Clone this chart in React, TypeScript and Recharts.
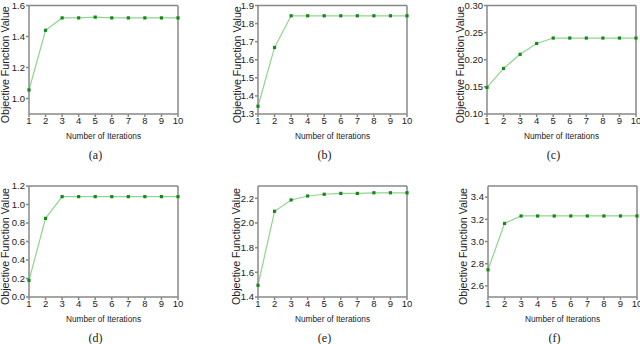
import { Line, LineChart, ReferenceLine, XAxis, YAxis } from "recharts";

const iterations = [1, 2, 3, 4, 5, 6, 7, 8, 9, 10];

const objectiveA = [1.055, 1.44, 1.52, 1.52, 1.525, 1.52, 1.52, 1.52, 1.52, 1.52];
const objectiveB = [1.343, 1.668, 1.843, 1.843, 1.843, 1.843, 1.843, 1.843, 1.843, 1.843];
const objectiveC = [0.149, 0.184, 0.21, 0.23, 0.24, 0.24, 0.24, 0.24, 0.24, 0.24];
const objectiveD = [0.18, 0.85, 1.085, 1.085, 1.085, 1.085, 1.085, 1.085, 1.085, 1.085];
const objectiveE = [1.495, 2.095, 2.187, 2.219, 2.233, 2.24, 2.24, 2.245, 2.245, 2.245];
const objectiveF = [2.745, 3.163, 3.23, 3.23, 3.23, 3.23, 3.23, 3.23, 3.23, 3.23];

const ticksA = [1.0, 1.2, 1.4, 1.6];
const ticksB = [1.3, 1.4, 1.5, 1.6, 1.7, 1.8, 1.9];
const ticksC = [0.1, 0.15, 0.2, 0.25, 0.3];
const ticksD = [0, 0.2, 0.4, 0.6, 0.8, 1.0, 1.2];
const ticksE = [1.4, 1.6, 1.8, 2.0, 2.2];
const ticksF = [2.6, 2.8, 3.0, 3.2, 3.4];

const captions = ["(a)", "(b)", "(c)", "(d)", "(e)", "(f)"];

const SANS = "'Liberation Sans', Arial, sans-serif";
const SERIF = "'Liberation Serif', 'Times New Roman', serif";
const FRAME = "#888888";
const CHART_H = 172;

interface PanelProps {
  caption: string;
  values: number[];
  yTicks: number[];
  yDomain: [number, number];
  digits: number;
  left: number;
  top: number;
  width: number;
  yAxisWidth: number;
  marginTop: number;
  xAxisHeight: number;
  labelGap: number;
}

const SquareDot = (props: { cx?: number; cy?: number; index?: number }) => {
  const { cx = 0, cy = 0, index } = props;
  return (
    <rect key={index} x={cx - 1.6} y={cy - 1.6} width={3.2} height={3.2} fill="#16871a" />
  );
};

const Panel = ({
  caption,
  values,
  yTicks,
  yDomain,
  digits,
  left,
  top,
  width,
  yAxisWidth,
  marginTop,
  xAxisHeight,
  labelGap,
}: PanelProps) => {
  const data = iterations.map((x, i) => ({ x, y: values[i] }));
  const plotBottom = CHART_H - xAxisHeight;
  const plotRight = width - 149 - yAxisWidth;
  const plotCenterX = yAxisWidth + 149 / 2;
  const yLabelX = yAxisWidth - labelGap;
  const yLabelY = (marginTop + plotBottom) / 2 + 5;

  return (
    <div style={{ position: "absolute", left, top }}>
      <LineChart
        width={width}
        height={CHART_H}
        data={data}
        margin={{ top: marginTop, right: plotRight, left: 0, bottom: 0 }}
      >
        <XAxis
          dataKey="x"
          type="number"
          domain={[1, 10]}
          ticks={iterations}
          interval={0}
          height={xAxisHeight}
          stroke={FRAME}
          strokeWidth={1.5}
          tickSize={3}
          tickMargin={0}
          tick={{ fill: "#222", fontSize: 9.5, fontFamily: SANS }}
          label={() => (
            <g>
              <text
                x={plotCenterX}
                y={plotBottom + 22}
                textAnchor="middle"
                dominantBaseline="central"
                fontSize={8.3}
                fontFamily={SANS}
                fill="#222"
              >
                Number of Iterations
              </text>
              <text
                x={plotCenterX - 8}
                y={plotBottom + 41}
                textAnchor="middle"
                dominantBaseline="central"
                fontSize={12}
                fontFamily={SERIF}
                fill="#222"
              >
                {caption}
              </text>
            </g>
          )}
        />
        <YAxis
          type="number"
          domain={yDomain}
          ticks={yTicks}
          interval={0}
          allowDataOverflow
          width={yAxisWidth}
          stroke={FRAME}
          strokeWidth={1.5}
          tickSize={3}
          tickMargin={1}
          tickFormatter={(v: number) => v.toFixed(digits)}
          tick={{ fill: "#222", fontSize: 9.5, fontFamily: SANS }}
          label={() => (
            <text
              x={yLabelX}
              y={yLabelY}
              transform={`rotate(-90 ${yLabelX} ${yLabelY})`}
              textAnchor="middle"
              dominantBaseline="central"
              fontSize={10.6}
              fontFamily={SANS}
              fill="#222"
            >
              Objective Function Value
            </text>
          )}
        />
        <ReferenceLine y={yDomain[1]} stroke={FRAME} strokeWidth={1.5} />
        <ReferenceLine x={10} stroke={FRAME} strokeWidth={1.5} />
        <Line
          type="linear"
          dataKey="y"
          stroke="#8fd58f"
          strokeWidth={1.2}
          dot={<SquareDot />}
          activeDot={false}
          isAnimationActive={false}
        />
      </LineChart>
    </div>
  );
};

const row1 = { top: 0, marginTop: 5.5, xAxisHeight: 58 };
const row2 = { top: 172, marginTop: 14, xAxisHeight: 47 };

export default function App() {
  return (
    <div
      style={{
        position: "fixed",
        left: 0,
        top: 0,
        width: 640,
        height: 344,
        background: "#fff",
        overflow: "hidden",
      }}
    >
      <Panel caption={captions[0]} values={objectiveA} yTicks={ticksA} yDomain={[0.9, 1.6]} digits={1}
        left={0} width={210} yAxisWidth={29} labelGap={24} {...row1} />
      <Panel caption={captions[1]} values={objectiveB} yTicks={ticksB} yDomain={[1.3, 1.9]} digits={1}
        left={210} width={210} yAxisWidth={48} labelGap={21} {...row1} />
      <Panel caption={captions[2]} values={objectiveC} yTicks={ticksC} yDomain={[0.1, 0.3]} digits={2}
        left={420} width={220} yAxisWidth={67} labelGap={27} {...row1} />
      <Panel caption={captions[3]} values={objectiveD} yTicks={ticksD} yDomain={[0, 1.2]} digits={1}
        left={0} width={210} yAxisWidth={29} labelGap={24} {...row2} />
      <Panel caption={captions[4]} values={objectiveE} yTicks={ticksE} yDomain={[1.4, 2.3]} digits={1}
        left={210} width={210} yAxisWidth={48} labelGap={22} {...row2} />
      <Panel caption={captions[5]} values={objectiveF} yTicks={ticksF} yDomain={[2.5, 3.5]} digits={1}
        left={420} width={220} yAxisWidth={68} labelGap={25} {...row2} />
    </div>
  );
}
